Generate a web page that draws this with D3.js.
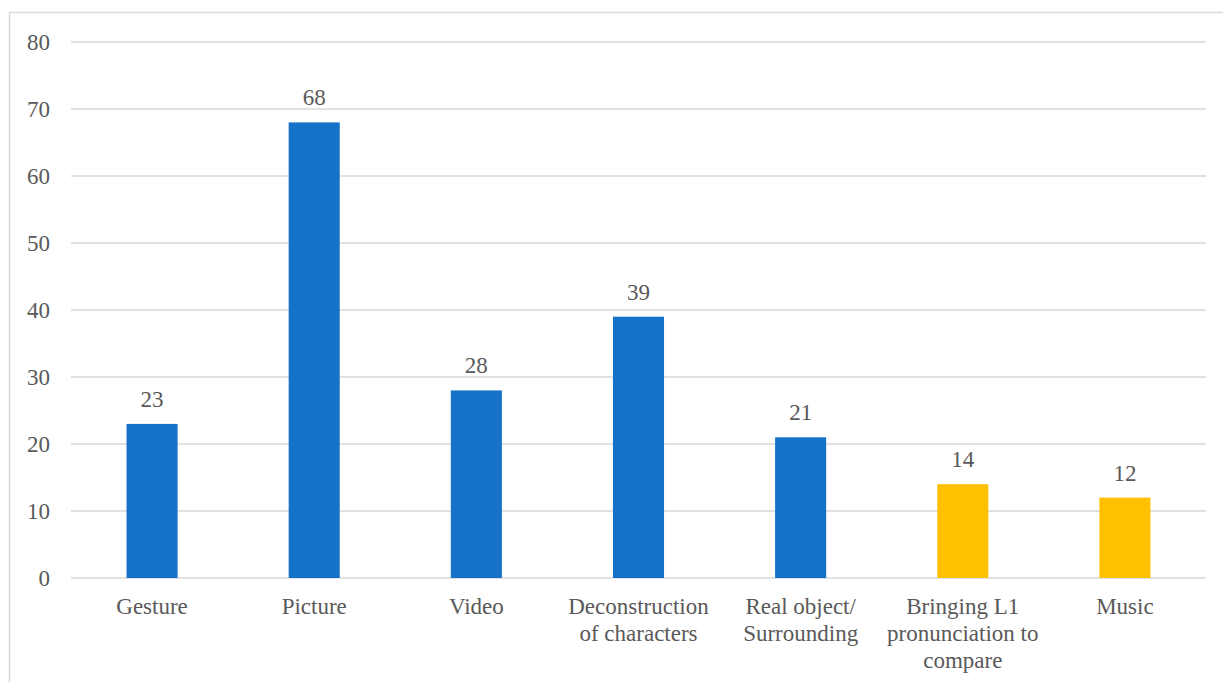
<!DOCTYPE html>
<html>
<head>
<meta charset="utf-8">
<script src="https://cdn.jsdelivr.net/npm/d3@7"></script>
<style>
  body { margin: 0; background: #fff; }
  svg { display: block; }
</style>
</head>
<body>
<svg id="chart" width="1223" height="682"></svg>
<script>
const categories = ['Gesture', 'Picture', 'Video', 'Deconstruction of characters',
  'Real object/ Surrounding', 'Bringing L1 pronunciation to compare', 'Music']
const labelLines = [['Gesture'], ['Picture'], ['Video'], ['Deconstruction', 'of characters'],
  ['Real object/', 'Surrounding'], ['Bringing L1', 'pronunciation to', 'compare'], ['Music']]
const values = [23, 68, 28, 39, 21, 14, 12]
const barColors = ['#1672C9', '#1672C9', '#1672C9', '#1672C9', '#1672C9', '#FFC000', '#FFC000']
const yTicks = [0, 10, 20, 30, 40, 50, 60, 70, 80]

const svg = d3.select('#chart')
const margin = {left: 71, right: 17, top: 42, bottom: 104}
const width = 1223, height = 682
const textColor = '#595959'
const fontSize = 23
const font = '"Liberation Serif"'

// outer chart border
svg.append('rect')
  .attr('x', 9.5).attr('y', 12.5)
  .attr('width', 1240).attr('height', 700)
  .attr('fill', 'none').attr('stroke', '#d9d9d9').attr('stroke-width', 1.5)

const x = d3.scaleBand()
  .domain(categories)
  .range([margin.left, width - margin.right])
  .paddingInner(0.685).paddingOuter(0.3425)

const y = d3.scaleLinear()
  .domain([0, 80])
  .range([height - margin.bottom, margin.top])

// gridlines
svg.append('g')
  .selectAll('line')
  .data(yTicks)
  .join('line')
  .attr('x1', margin.left).attr('x2', width - margin.right)
  .attr('y1', d => y(d)).attr('y2', d => y(d))
  .attr('stroke', '#d9d9d9').attr('stroke-width', 1.5)

// y tick labels
svg.append('g')
  .selectAll('text')
  .data(yTicks)
  .join('text')
  .attr('x', 50)
  .attr('y', d => y(d))
  .attr('dy', '0.33em')
  .attr('text-anchor', 'end')
  .style('font-family', font)
  .style('font-size', fontSize + 'px')
  .attr('fill', textColor)
  .text(d => d)

// bars
svg.append('g')
  .selectAll('rect')
  .data(values)
  .join('rect')
  .attr('x', (d, i) => x(categories[i]))
  .attr('y', d => y(d))
  .attr('width', x.bandwidth())
  .attr('height', d => y(0) - y(d))
  .attr('fill', (d, i) => barColors[i])

// value labels
svg.append('g')
  .selectAll('text')
  .data(values)
  .join('text')
  .attr('x', (d, i) => x(categories[i]) + x.bandwidth() / 2)
  .attr('y', d => y(d) - 17)
  .attr('text-anchor', 'middle')
  .style('font-family', font)
  .style('font-size', fontSize + 'px')
  .attr('fill', textColor)
  .text(d => d)

// category labels
const catLabels = svg.append('g')
  .selectAll('text')
  .data(labelLines)
  .join('text')
  .attr('text-anchor', 'middle')
  .style('font-family', font)
  .style('font-size', fontSize + 'px')
  .attr('fill', textColor)
  .attr('y', y(0) + 36)

catLabels.each(function (lines, i) {
  const cx = x(categories[i]) + x.bandwidth() / 2
  d3.select(this).selectAll('tspan')
    .data(lines)
    .join('tspan')
    .attr('x', cx)
    .attr('dy', (l, j) => j === 0 ? 0 : 27)
    .text(l => l)
})
</script>
</body>
</html>
